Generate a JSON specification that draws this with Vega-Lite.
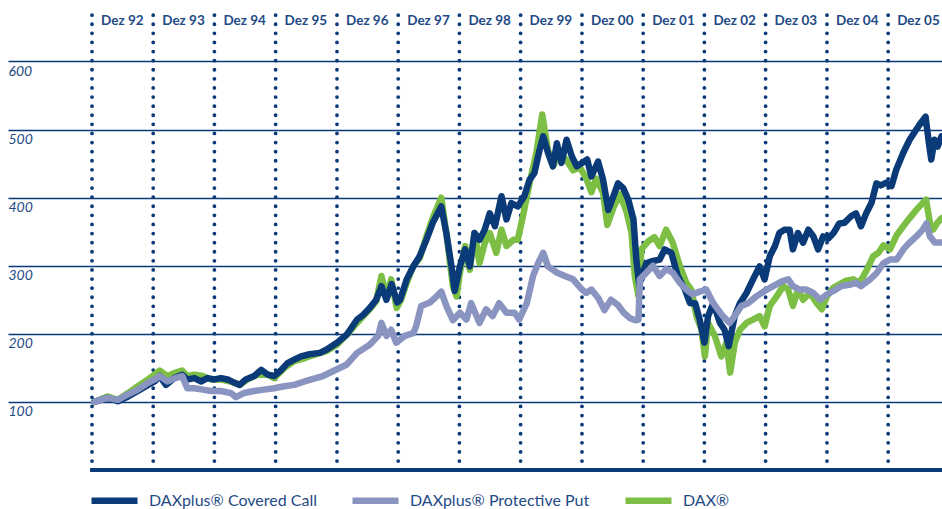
{
  "$schema": "https://vega.github.io/schema/vega-lite/v6.json",
  "width": 934,
  "height": 463,
  "autosize": "none",
  "padding": {"left": 8, "top": 7, "right": 0, "bottom": 39},
  "background": "white",
  "config": {
    "view": {"stroke": null},
    "font": "Lato",
    "axisY": {
      "grid": true, "gridColor": "#0b3a78", "gridWidth": 1.4, "gridOpacity": 1,
      "domain": false, "ticks": false,
      "labelFont": "Lato", "labelFontStyle": "italic", "labelFontSize": 14, "labelColor": "#1f4a86",
      "labelAlign": "left", "labelBaseline": "top", "labelPadding": 0, "labelOffset": 3
    },
    "legend": {
      "orient": "none", "legendX": 80, "legendY": 467, "direction": "horizontal",
      "symbolType": "stroke", "symbolSize": 2116, "symbolStrokeWidth": 6.5,
      "labelFont": "Lato", "labelFontSize": 16, "labelColor": "#1f4a86", "labelOffset": 8, "labelLimit": 0,
      "columnPadding": 22, "title": null, "symbolOpacity": 1
    }
  },
  "datasets": {
    "years": [
      {"d": "1993-01-01", "t": "Dez 92"}, {"d": "1994-01-01", "t": "Dez 93"}, {"d": "1995-01-01", "t": "Dez 94"},
      {"d": "1996-01-01", "t": "Dez 95"}, {"d": "1997-01-01", "t": "Dez 96"}, {"d": "1998-01-01", "t": "Dez 97"},
      {"d": "1999-01-01", "t": "Dez 98"}, {"d": "2000-01-01", "t": "Dez 99"}, {"d": "2001-01-01", "t": "Dez 00"},
      {"d": "2002-01-01", "t": "Dez 01"}, {"d": "2003-01-01", "t": "Dez 02"}, {"d": "2004-01-01", "t": "Dez 03"},
      {"d": "2005-01-01", "t": "Dez 04"}, {"d": "2006-01-01", "t": "Dez 05"}
    ],
    "cc": [
      {"d":"1993-01-15","v":100},{"d":"1993-04-04","v":106},{"d":"1993-06-04","v":101},{"d":"1993-08-04","v":108},{"d":"1993-10-01","v":116},{"d":"1993-12-01","v":125},
      {"d":"1994-01-09","v":130},{"d":"1994-02-09","v":138},{"d":"1994-03-18","v":125},{"d":"1994-05-07","v":135},{"d":"1994-06-23","v":140},{"d":"1994-07-23","v":133},
      {"d":"1994-09-04","v":135},{"d":"1994-10-12","v":130},{"d":"1994-11-21","v":135},{"d":"1995-01-01","v":133},{"d":"1995-02-09","v":135},{"d":"1995-03-21","v":133},
      {"d":"1995-05-01","v":128},{"d":"1995-06-01","v":125},{"d":"1995-07-07","v":133},{"d":"1995-08-26","v":138},{"d":"1995-10-07","v":147},{"d":"1995-11-15","v":140},
      {"d":"1995-12-23","v":138},{"d":"1996-02-04","v":147},{"d":"1996-03-12","v":157},{"d":"1996-04-21","v":162},{"d":"1996-06-01","v":167},{"d":"1996-07-21","v":170},
      {"d":"1996-09-21","v":172},{"d":"1996-11-01","v":177},{"d":"1997-01-01","v":187},{"d":"1997-03-01","v":199},{"d":"1997-05-01","v":221},{"d":"1997-06-07","v":228},
      {"d":"1997-07-15","v":238},{"d":"1997-08-23","v":250},{"d":"1997-09-23","v":270},{"d":"1997-10-23","v":250},{"d":"1997-11-23","v":273},{"d":"1997-12-26","v":246},
      {"d":"1998-01-12","v":250},{"d":"1998-02-21","v":280},{"d":"1998-04-01","v":299},{"d":"1998-05-09","v":314},{"d":"1998-06-18","v":338},{"d":"1998-07-26","v":363},
      {"d":"1998-09-15","v":387},{"d":"1998-10-15","v":348},{"d":"1998-11-15","v":299},{"d":"1998-12-04","v":263},{"d":"1999-01-04","v":299},{"d":"1999-02-04","v":324},
      {"d":"1999-03-04","v":299},{"d":"1999-04-01","v":348},{"d":"1999-05-01","v":338},{"d":"1999-06-01","v":353},{"d":"1999-07-01","v":377},{"d":"1999-08-01","v":358},
      {"d":"1999-09-09","v":402},{"d":"1999-10-09","v":368},{"d":"1999-11-07","v":392},{"d":"1999-12-15","v":387},{"d":"2000-01-23","v":402},{"d":"2000-02-23","v":426},
      {"d":"2000-03-23","v":436},{"d":"2000-04-23","v":470},{"d":"2000-05-15","v":490},{"d":"2000-06-12","v":466},{"d":"2000-07-12","v":446},{"d":"2000-08-04","v":480},
      {"d":"2000-09-01","v":451},{"d":"2000-10-01","v":485},{"d":"2000-11-01","v":461},{"d":"2000-12-01","v":446},{"d":"2001-01-01","v":451},{"d":"2001-02-01","v":456},
      {"d":"2001-02-26","v":431},{"d":"2001-04-07","v":453},{"d":"2001-05-07","v":426},{"d":"2001-06-07","v":382},{"d":"2001-07-07","v":402},{"d":"2001-08-04","v":421},
      {"d":"2001-09-04","v":414},{"d":"2001-10-04","v":397},{"d":"2001-11-04","v":368},{"d":"2001-11-21","v":309},{"d":"2001-12-09","v":270},{"d":"2001-12-21","v":285},
      {"d":"2002-01-21","v":304},{"d":"2002-03-01","v":307},{"d":"2002-04-09","v":309},{"d":"2002-05-09","v":324},{"d":"2002-06-18","v":319},{"d":"2002-07-26","v":285},
      {"d":"2002-09-07","v":265},{"d":"2002-10-07","v":245},{"d":"2002-11-07","v":245},{"d":"2002-12-04","v":221},{"d":"2003-01-01","v":187},{"d":"2003-01-23","v":226},
      {"d":"2003-02-23","v":245},{"d":"2003-04-04","v":216},{"d":"2003-05-01","v":206},{"d":"2003-05-26","v":182},{"d":"2003-07-01","v":226},{"d":"2003-08-01","v":245},
      {"d":"2003-09-09","v":260},{"d":"2003-10-18","v":280},{"d":"2003-11-26","v":299},{"d":"2003-12-26","v":280},{"d":"2004-01-26","v":314},{"d":"2004-02-26","v":329},
      {"d":"2004-03-23","v":348},{"d":"2004-04-23","v":353},{"d":"2004-05-23","v":353},{"d":"2004-06-12","v":324},{"d":"2004-07-12","v":348},{"d":"2004-08-12","v":334},
      {"d":"2004-09-12","v":353},{"d":"2004-10-12","v":343},{"d":"2004-11-09","v":324},{"d":"2004-12-09","v":343},{"d":"2005-01-09","v":340},{"d":"2005-02-09","v":348},
      {"d":"2005-03-15","v":362},{"d":"2005-04-15","v":363},{"d":"2005-05-26","v":373},{"d":"2005-06-23","v":377},{"d":"2005-07-23","v":358},{"d":"2005-08-23","v":377},
      {"d":"2005-09-23","v":392},{"d":"2005-10-23","v":421},{"d":"2005-11-18","v":418},{"d":"2005-12-21","v":422},{"d":"2006-01-21","v":417},{"d":"2006-02-18","v":441},
      {"d":"2006-04-01","v":466},{"d":"2006-05-09","v":485},{"d":"2006-06-18","v":500},{"d":"2006-07-07","v":507},{"d":"2006-08-12","v":519},{"d":"2006-09-01","v":480},
      {"d":"2006-09-15","v":456},{"d":"2006-10-04","v":485},{"d":"2006-10-23","v":475},{"d":"2006-11-15","v":490}
    ],
    "dax": [
      {"d":"1993-01-15","v":100},{"d":"1993-04-04","v":108},{"d":"1993-06-04","v":103},{"d":"1993-08-04","v":113},{"d":"1993-10-01","v":123},{"d":"1993-12-01","v":133},
      {"d":"1994-01-09","v":140},{"d":"1994-02-09","v":146},{"d":"1994-03-26","v":138},{"d":"1994-05-15","v":143},{"d":"1994-06-23","v":146},{"d":"1994-07-23","v":138},
      {"d":"1994-09-04","v":140},{"d":"1994-10-23","v":138},{"d":"1994-12-12","v":133},{"d":"1995-02-09","v":133},{"d":"1995-04-09","v":130},{"d":"1995-06-01","v":125},
      {"d":"1995-07-18","v":133},{"d":"1995-09-15","v":140},{"d":"1995-11-15","v":140},{"d":"1995-12-23","v":135},{"d":"1996-02-23","v":150},{"d":"1996-04-21","v":160},
      {"d":"1996-06-21","v":164},{"d":"1996-07-21","v":167},{"d":"1996-11-01","v":175},{"d":"1997-01-01","v":184},{"d":"1997-03-01","v":199},{"d":"1997-05-01","v":216},
      {"d":"1997-07-15","v":236},{"d":"1997-08-23","v":248},{"d":"1997-09-23","v":285},{"d":"1997-10-23","v":255},{"d":"1997-11-20","v":280},{"d":"1997-12-23","v":238},
      {"d":"1998-01-18","v":250},{"d":"1998-02-21","v":275},{"d":"1998-04-01","v":300},{"d":"1998-05-09","v":311},{"d":"1998-06-18","v":343},{"d":"1998-07-26","v":370},
      {"d":"1998-09-15","v":400},{"d":"1998-10-15","v":348},{"d":"1998-11-23","v":270},{"d":"1998-12-15","v":255},{"d":"1999-01-04","v":290},{"d":"1999-02-04","v":329},
      {"d":"1999-03-04","v":294},{"d":"1999-04-01","v":348},{"d":"1999-05-01","v":304},{"d":"1999-06-01","v":333},{"d":"1999-07-01","v":348},{"d":"1999-08-09","v":319},
      {"d":"1999-09-09","v":353},{"d":"1999-10-09","v":329},{"d":"1999-11-18","v":338},{"d":"1999-12-15","v":338},{"d":"2000-01-15","v":373},{"d":"2000-02-23","v":421},
      {"d":"2000-04-04","v":466},{"d":"2000-05-09","v":522},{"d":"2000-06-12","v":470},{"d":"2000-07-12","v":446},{"d":"2000-08-21","v":466},{"d":"2000-10-01","v":455},
      {"d":"2000-11-09","v":440},{"d":"2000-12-18","v":445},{"d":"2001-01-26","v":429},{"d":"2001-02-26","v":408},{"d":"2001-03-26","v":428},{"d":"2001-05-07","v":407},
      {"d":"2001-06-01","v":360},{"d":"2001-07-07","v":385},{"d":"2001-08-15","v":405},{"d":"2001-09-23","v":380},{"d":"2001-10-23","v":349},{"d":"2001-11-12","v":285},
      {"d":"2001-12-04","v":255},{"d":"2001-12-21","v":324},{"d":"2002-02-01","v":336},{"d":"2002-03-09","v":342},{"d":"2002-04-09","v":329},{"d":"2002-05-18","v":353},
      {"d":"2002-06-26","v":334},{"d":"2002-08-07","v":300},{"d":"2002-09-15","v":275},{"d":"2002-10-15","v":265},{"d":"2002-11-15","v":226},{"d":"2002-12-15","v":206},
      {"d":"2003-01-04","v":167},{"d":"2003-01-23","v":216},{"d":"2003-03-04","v":197},{"d":"2003-04-12","v":167},{"d":"2003-05-12","v":187},{"d":"2003-06-04","v":143},
      {"d":"2003-07-01","v":187},{"d":"2003-08-01","v":206},{"d":"2003-09-09","v":216},{"d":"2003-10-18","v":221},{"d":"2003-11-26","v":226},{"d":"2003-12-26","v":211},
      {"d":"2004-01-26","v":241},{"d":"2004-03-07","v":255},{"d":"2004-04-15","v":270},{"d":"2004-05-15","v":265},{"d":"2004-06-12","v":241},{"d":"2004-07-12","v":265},
      {"d":"2004-08-12","v":250},{"d":"2004-09-21","v":260},{"d":"2004-11-01","v":245},{"d":"2004-12-01","v":236},{"d":"2005-01-01","v":255},{"d":"2005-02-09","v":268},
      {"d":"2005-03-18","v":273},{"d":"2005-04-26","v":278},{"d":"2005-06-07","v":280},{"d":"2005-07-15","v":275},{"d":"2005-08-23","v":292},{"d":"2005-10-04","v":314},
      {"d":"2005-11-04","v":319},{"d":"2005-12-04","v":330},{"d":"2006-01-12","v":324},{"d":"2006-02-21","v":345},{"d":"2006-04-01","v":358},{"d":"2006-05-09","v":370},
      {"d":"2006-06-18","v":382},{"d":"2006-07-26","v":392},{"d":"2006-08-15","v":397},{"d":"2006-09-07","v":363},{"d":"2006-09-26","v":353},{"d":"2006-10-21","v":363},
      {"d":"2006-11-15","v":370}
    ],
    "pp": [
      {"d":"1993-01-15","v":100},{"d":"1993-04-04","v":106},{"d":"1993-06-04","v":103},{"d":"1993-08-04","v":111},{"d":"1993-10-01","v":118},{"d":"1993-12-01","v":128},
      {"d":"1994-01-09","v":133},{"d":"1994-02-09","v":138},{"d":"1994-03-26","v":130},{"d":"1994-05-15","v":135},{"d":"1994-06-23","v":138},{"d":"1994-07-23","v":120},
      {"d":"1994-09-04","v":120},{"d":"1994-10-23","v":118},{"d":"1994-12-12","v":116},{"d":"1995-02-09","v":116},{"d":"1995-04-09","v":113},{"d":"1995-05-09","v":107},
      {"d":"1995-06-26","v":113},{"d":"1995-08-26","v":116},{"d":"1995-10-23","v":118},{"d":"1995-12-23","v":120},{"d":"1996-02-23","v":123},{"d":"1996-04-21","v":125},
      {"d":"1996-06-21","v":130},{"d":"1996-10-09","v":138},{"d":"1997-01-01","v":148},{"d":"1997-03-01","v":155},{"d":"1997-05-01","v":172},{"d":"1997-07-15","v":184},
      {"d":"1997-09-04","v":197},{"d":"1997-09-23","v":216},{"d":"1997-10-23","v":197},{"d":"1997-11-20","v":206},{"d":"1997-12-20","v":187},{"d":"1998-02-09","v":197},
      {"d":"1998-04-01","v":201},{"d":"1998-04-18","v":211},{"d":"1998-05-18","v":241},{"d":"1998-07-09","v":246},{"d":"1998-08-18","v":255},{"d":"1998-09-15","v":262},
      {"d":"1998-10-15","v":241},{"d":"1998-11-23","v":220},{"d":"1999-01-04","v":231},{"d":"1999-02-12","v":221},{"d":"1999-03-12","v":245},{"d":"1999-05-01","v":216},
      {"d":"1999-06-09","v":236},{"d":"1999-07-18","v":226},{"d":"1999-08-26","v":245},{"d":"1999-10-09","v":231},{"d":"1999-11-26","v":231},{"d":"1999-12-23","v":221},
      {"d":"2000-02-07","v":245},{"d":"2000-03-15","v":285},{"d":"2000-04-15","v":304},{"d":"2000-05-15","v":319},{"d":"2000-06-12","v":299},{"d":"2000-08-04","v":290},
      {"d":"2000-09-21","v":285},{"d":"2000-11-09","v":280},{"d":"2001-01-01","v":265},{"d":"2001-01-26","v":260},{"d":"2001-02-26","v":265},{"d":"2001-04-07","v":253},
      {"d":"2001-05-15","v":235},{"d":"2001-06-23","v":250},{"d":"2001-08-01","v":243},{"d":"2001-09-07","v":231},{"d":"2001-10-15","v":223},{"d":"2001-11-15","v":220},
      {"d":"2001-12-04","v":221},{"d":"2001-12-12","v":280},{"d":"2002-01-21","v":290},{"d":"2002-03-01","v":300},{"d":"2002-04-09","v":285},{"d":"2002-05-18","v":295},
      {"d":"2002-06-26","v":290},{"d":"2002-08-07","v":275},{"d":"2002-09-15","v":265},{"d":"2002-10-23","v":258},{"d":"2002-12-04","v":262},{"d":"2003-01-12","v":265},
      {"d":"2003-02-23","v":245},{"d":"2003-04-21","v":226},{"d":"2003-06-01","v":216},{"d":"2003-07-01","v":226},{"d":"2003-08-09","v":241},{"d":"2003-09-18","v":245},
      {"d":"2003-11-07","v":255},{"d":"2003-12-26","v":263},{"d":"2004-02-15","v":270},{"d":"2004-04-07","v":277},{"d":"2004-05-15","v":280},{"d":"2004-06-12","v":270},
      {"d":"2004-07-21","v":265},{"d":"2004-09-01","v":265},{"d":"2004-10-12","v":260},{"d":"2004-11-21","v":250},{"d":"2005-01-01","v":258},{"d":"2005-02-09","v":263},
      {"d":"2005-03-26","v":270},{"d":"2005-05-15","v":272},{"d":"2005-06-23","v":275},{"d":"2005-07-23","v":270},{"d":"2005-09-15","v":280},{"d":"2005-10-23","v":289},
      {"d":"2005-12-04","v":304},{"d":"2006-01-12","v":309},{"d":"2006-02-21","v":309},{"d":"2006-04-01","v":324},{"d":"2006-05-09","v":334},{"d":"2006-06-18","v":343},
      {"d":"2006-07-26","v":353},{"d":"2006-08-18","v":362},{"d":"2006-09-07","v":343},{"d":"2006-10-07","v":334},{"d":"2006-11-15","v":334}
    ]
  },
  "layer": [
    {
      "data": {"name": "years"},
      "mark": {"type": "rule", "color": "#0b3a78", "strokeWidth": 3.8, "strokeDash": [0, 9.1], "strokeCap": "round"},
      "encoding": {
        "x": {"field": "d", "type": "temporal", "axis": null,
              "scale": {"type": "utc", "domain": [{"year": 1991, "month": 8, "date": 19, "utc": true}, {"year": 2006, "month": 11, "date": 18, "utc": true}]}},
        "y": {"datum": 668, "type": "quantitative", "scale": {"domain": [0, 680], "nice": false}, "axis": {"values": [100, 200, 300, 400, 500, 600], "title": null}},
        "y2": {"datum": 0}
      }
    },
    {
      "data": {"name": "years"},
      "mark": {"type": "text", "color": "#1f4a86", "font": "Lato", "fontWeight": "bold", "fontSize": 13.5, "align": "left", "baseline": "middle", "dx": 9},
      "encoding": {
        "x": {"field": "d", "type": "temporal", "axis": null},
        "y": {"datum": 659, "type": "quantitative", "axis": {"values": [100, 200, 300, 400, 500, 600], "title": null}},
        "text": {"field": "t"}
      }
    },
    {
      "data": {"name": "years"},
      "mark": {"type": "rule", "color": "#0b3a78", "strokeWidth": 4},
      "encoding": {
        "x": {"datum": {"year": 1992, "month": 12, "date": 25, "utc": true}, "type": "temporal", "axis": null},
        "x2": {"datum": {"year": 2006, "month": 11, "date": 18, "utc": true}},
        "y": {"datum": 0, "type": "quantitative", "axis": {"values": [100, 200, 300, 400, 500, 600], "title": null}}
      }
    },
    {
      "data": {"name": "dax"},
      "mark": {"type": "line", "strokeWidth": 6.5, "strokeJoin": "round", "strokeCap": "round"},
      "encoding": {
        "x": {"field": "d", "type": "temporal", "axis": null},
        "y": {"field": "v", "type": "quantitative", "axis": {"values": [100, 200, 300, 400, 500, 600], "title": null}},
        "color": {"datum": "DAX®", "type": "nominal",
                  "scale": {"domain": ["DAXplus® Covered Call", "DAXplus® Protective Put", "DAX®"], "range": ["#0b3a78", "#8a94c0", "#7dbf45"]}}
      }
    },
    {
      "data": {"name": "cc"},
      "mark": {"type": "line", "strokeWidth": 6.5, "strokeJoin": "round", "strokeCap": "round"},
      "encoding": {
        "x": {"field": "d", "type": "temporal", "axis": null},
        "y": {"field": "v", "type": "quantitative", "axis": {"values": [100, 200, 300, 400, 500, 600], "title": null}},
        "color": {"datum": "DAXplus® Covered Call", "type": "nominal"}
      }
    },
    {
      "data": {"name": "pp"},
      "mark": {"type": "line", "strokeWidth": 6.5, "strokeJoin": "round", "strokeCap": "round"},
      "encoding": {
        "x": {"field": "d", "type": "temporal", "axis": null},
        "y": {"field": "v", "type": "quantitative", "axis": {"values": [100, 200, 300, 400, 500, 600], "title": null}},
        "color": {"datum": "DAXplus® Protective Put", "type": "nominal"}
      }
    }
  ]
}
